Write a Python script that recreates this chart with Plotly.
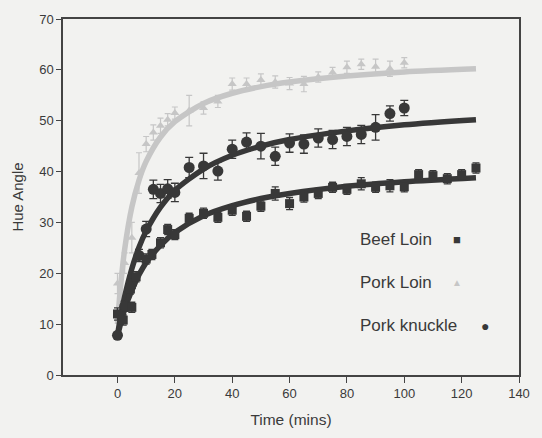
import plotly.graph_objects as go

# ---- data ----
beef_x = [0, 2, 4.5, 5, 6.5, 10, 12, 15, 17.5, 20, 25, 30, 35, 40, 45, 50, 55, 60,
          65, 70, 75, 80, 85, 90, 95, 100, 105, 110, 115, 120, 125]
beef_y = [12, 10.8, 16.9, 13.3, 19.3, 22.8, 23.7, 26, 28.6, 27.6, 30.8, 31.8, 31, 32.4,
          31.2, 33.2, 35.7, 33.7, 35, 35.7, 36.9, 36.5, 37.6, 36.9, 37.2, 37, 39.4, 39.2,
          38.6, 39.4, 40.7]
beef_err = [1.2, 1.0, 1.0, 1.0, 1.0, 1.0, 1.0, 1.0, 1.0, 1.0, 1.0, 1.0, 1.0, 1.0, 1.0,
            1.0, 1.3, 1.2, 1.0, 1.0, 1.0, 1.0, 1.2, 1.0, 1.2, 1.0, 1.0, 1.0, 1.0, 1.0, 1.0]

knuckle_x = [0, 2.5, 5, 7.5, 10, 12.5, 15, 17.5, 20, 25, 30, 35, 40, 45, 50, 55, 60,
             65, 70, 75, 80, 85, 90, 95, 100]
knuckle_y = [7.8, 13.5, 18, 23.5, 28.7, 36.5, 35.7, 36.6, 35.9, 40.8, 41.1, 40.1, 44.4,
             45.8, 45, 43, 45.6, 45.4, 46.6, 46.3, 46.9, 47.3, 48.7, 51.4, 52.5]
knuckle_err = [0.5, 1.0, 1.0, 1.2, 1.5, 1.8, 1.8, 1.8, 1.8, 2.0, 2.5, 1.8, 1.8, 1.8,
               2.5, 1.8, 1.8, 1.8, 1.8, 1.8, 1.8, 1.8, 2.5, 1.5, 1.5]

loin_x = [0, 2.5, 5, 7.5, 10, 12.5, 15, 17.5, 20, 25, 30, 35, 40, 45, 50, 55, 60, 65,
          70, 75, 80, 85, 90, 95, 100]
loin_y = [18, 22, 27, 39.7, 45.4, 47.7, 49, 50.2, 51.5, 52, 52.5, 53.8, 57.2, 57.2, 58,
          57.6, 57.3, 57.2, 58.6, 59.5, 60.5, 61.1, 60.6, 60.2, 61.4]
loin_err = [2, 2, 3, 4, 1.5, 1.5, 1.5, 1.2, 1.2, 3, 1.2, 1.2, 1.2, 1.2, 1.2, 1.2, 1.2,
            1.5, 1, 1, 1.2, 1, 1.5, 1.5, 1]

# fitted curves
fit_x = [0, 1, 2.5, 5, 7.5, 10, 15, 20, 30, 40, 50, 60, 80, 100, 125]
beef_fit = [7.6, 9.9, 12.9, 16.7, 19.7, 22.1, 25.5, 28.0, 31.3, 33.3, 34.7, 35.7, 37.1, 38.0, 38.8]
knuckle_fit = [7.8, 11.2, 15.4, 20.9, 25.1, 28.3, 33.0, 36.3, 40.5, 43.2, 45.0, 46.3, 48.0, 49.2, 50.2]
loin_fit = [10, 17.0, 24.7, 33.0, 38.3, 42.0, 46.8, 49.8, 53.4, 55.4, 56.7, 57.6, 58.8, 59.6, 60.2]

x_ticks = [0, 20, 40, 60, 80, 100, 120, 140]
y_ticks = [0, 10, 20, 30, 40, 50, 60, 70]

legend_names = ["Beef Loin", "Pork Loin", "Pork knuckle"]

DARK = "#383838"
LIGHT = "#c6c6c6"
BG = "#f2f2f0"
FONT = "Arial"

fig = go.Figure()

# curves
for fy, col in [(loin_fit, LIGHT), (knuckle_fit, DARK), (beef_fit, DARK)]:
    fig.add_trace(go.Scatter(x=fit_x, y=fy, mode="lines",
                             line=dict(color=col, width=5.5, shape="spline", smoothing=0.8),
                             showlegend=False))

# data points
fig.add_trace(go.Scatter(x=loin_x, y=loin_y, mode="markers",
                         marker=dict(symbol="triangle-up", size=8, color=LIGHT),
                         error_y=dict(type="data", array=loin_err, color=LIGHT, thickness=1.2, width=3),
                         showlegend=False))
fig.add_trace(go.Scatter(x=knuckle_x, y=knuckle_y, mode="markers",
                         marker=dict(symbol="circle", size=11, color=DARK),
                         error_y=dict(type="data", array=knuckle_err, color=DARK, thickness=1.3, width=4),
                         showlegend=False))
fig.add_trace(go.Scatter(x=beef_x, y=beef_y, mode="markers",
                         marker=dict(symbol="square", size=9, color=DARK),
                         error_y=dict(type="data", array=beef_err, color=DARK, thickness=1.3, width=3.5),
                         showlegend=False))

# legend (text with symbol on the right, as in the reference)
leg = [
    (legend_names[0], 0.38, "■", DARK, 0.865, 13),
    (legend_names[1], 0.26, "▲", LIGHT, 0.865, 10),
    (legend_names[2], 0.138, "●", DARK, 0.925, 14),
]
for name, yy, sym, col, sx, ssize in leg:
    fig.add_annotation(x=0.647, y=yy, xref="paper", yref="paper", text=name, showarrow=False,
                       xanchor="left", yanchor="middle", font=dict(family=FONT, size=17, color="#3a3a3a"))
    fig.add_annotation(x=sx, y=yy, xref="paper", yref="paper", text=sym, showarrow=False,
                       xanchor="center", yanchor="middle", font=dict(family=FONT, size=ssize, color=col))

fig.update_layout(
    width=542, height=438,
    margin=dict(l=63, r=12, t=16, b=61),
    paper_bgcolor=BG, plot_bgcolor=BG,
    font=dict(family=FONT, color="#3a3a3a"),
    showlegend=False,
)
fig.update_xaxes(range=[-19, 140], tickvals=x_ticks, ticks="outside", ticklen=6, tickwidth=1.2,
                 tickcolor="#444", showline=True, linecolor="#444", linewidth=1.5, mirror=True,
                 showgrid=False, zeroline=False, tickfont=dict(family=FONT, size=13, color="#3a3a3a"),
                 title=dict(text="Time (mins)", font=dict(family=FONT, size=15.5, color="#3a3a3a"), standoff=14))
fig.update_yaxes(range=[0, 70], tickvals=y_ticks, ticks="outside", ticklen=5, tickwidth=1.2,
                 tickcolor="#444", showline=True, linecolor="#444", linewidth=1.5, mirror=True,
                 showgrid=False, zeroline=False, tickfont=dict(family=FONT, size=13, color="#3a3a3a"),
                 title=dict(text="Hue Angle", font=dict(family=FONT, size=15, color="#3a3a3a"), standoff=12))

fig.write_html("out.html")
